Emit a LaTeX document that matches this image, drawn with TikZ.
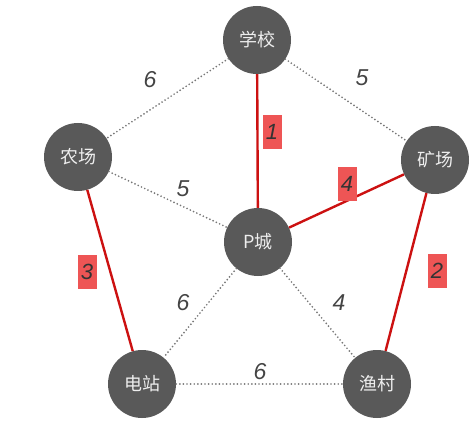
\documentclass[tikz,border=0pt]{standalone}
\usepackage{fontspec}
\setmainfont{Liberation Sans}
\newfontfamily\cjk{Noto Sans CJK SC}
\definecolor{nodegray}{HTML}{595959}
\definecolor{nodetext}{HTML}{EEEEEE}
\definecolor{edgered}{HTML}{CC1111}
\definecolor{boxred}{HTML}{EE5555}
\definecolor{dotgray}{HTML}{777777}
\definecolor{numgray}{HTML}{444444}
\begin{document}
\begin{tikzpicture}[x=1pt,y=-1pt,
  city/.style={circle,fill=nodegray,minimum size=68pt,inner sep=0pt,text=nodetext,font=\cjk\fontsize{18}{18}\selectfont},
  dotline/.style={draw=dotgray,line width=1.9pt,dash pattern=on 0pt off 3.6pt,line cap=round},
  redline/.style={draw=edgered,line width=2.4pt},
  wlabel/.style={text=numgray,font=\fontsize{23}{23}\selectfont\itshape,inner sep=0pt},
  rlabel/.style={fill=boxred,text=black!80,font=\fontsize{22}{22}\selectfont\itshape,minimum width=19pt,minimum height=34pt,inner sep=0pt}]
\useasboundingbox (0,0) rectangle (476,430);
\node[city] (xx) at (257,40) {学校};
\node[city] (nc) at (78,157) {农场};
\node[city] (kc) at (435,160) {矿场};
\node[city] (pc) at (258,242) {P城};
\node[city] (dz) at (142,384) {电站};
\node[city] (yc) at (377,384) {渔村};
\draw[dotline] (xx) -- (nc);
\draw[dotline] (xx) -- (kc);
\draw[dotline] (nc) -- (pc);
\draw[dotline] (pc) -- (dz);
\draw[dotline] (pc) -- (yc);
\draw[dotline] (dz) -- (yc);
\draw[redline] (xx) -- (pc);
\draw[redline] (kc) -- (pc);
\draw[redline] (nc) -- (dz);
\draw[redline] (kc) -- (yc);
\node[wlabel] (l1) at (150,80) {6};
\node[wlabel] (l2) at (362,78) {5};
\node[wlabel] (l3) at (183,189) {5};
\node[wlabel] (l4) at (183,303) {6};
\node[wlabel] (l5) at (339,303) {4};
\node[wlabel] (l6) at (260,372) {6};
\node[rlabel] (r1) at (272,132) {1};
\node[rlabel] (r4) at (347,184) {4};
\node[rlabel] (r2) at (437,271) {2};
\node[rlabel] (r3) at (87,272) {3};
\end{tikzpicture}
\end{document}
